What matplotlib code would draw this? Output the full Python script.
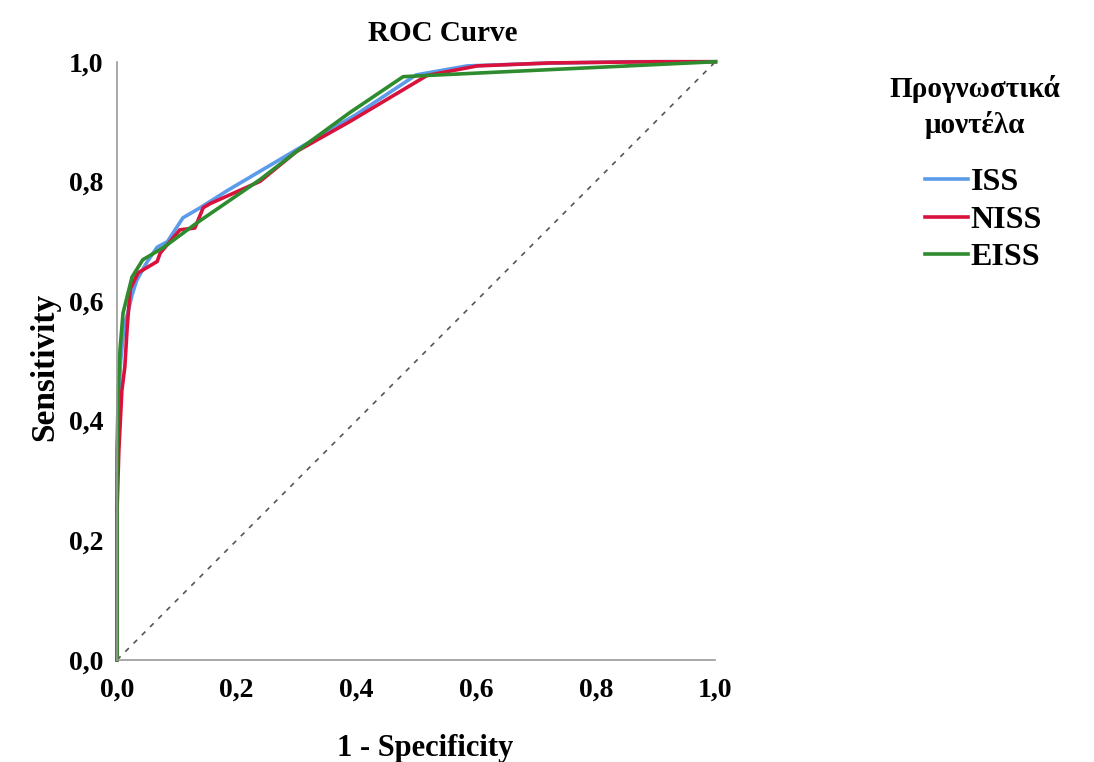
import matplotlib
matplotlib.use("Agg")
import matplotlib.pyplot as plt
from matplotlib.ticker import FuncFormatter

# ROC points (1 - specificity, sensitivity)
iss_fpr = [0.0, 0.0, 0.002, 0.006, 0.012, 0.018, 0.025, 0.033, 0.050, 0.067, 0.084,
           0.110, 0.139, 0.185, 0.30, 0.40, 0.50, 0.585, 0.70, 0.85, 1.0]
iss_tpr = [0.0, 0.30, 0.42, 0.50, 0.56, 0.58, 0.61, 0.635, 0.665, 0.69, 0.699,
           0.739, 0.756, 0.785, 0.853, 0.912, 0.978, 0.993, 0.997, 1.0, 1.0]

niss_fpr = [0.0, 0.0, 0.003, 0.008, 0.013, 0.017, 0.022, 0.035, 0.067, 0.072,
            0.105, 0.130, 0.144, 0.156, 0.239, 0.30, 0.389, 0.518, 0.602, 0.724, 0.90, 1.0]
niss_tpr = [0.0, 0.25, 0.35, 0.45, 0.49, 0.557, 0.62, 0.647, 0.666, 0.68,
            0.719, 0.722, 0.756, 0.763, 0.80, 0.850, 0.900, 0.977, 0.993, 0.998, 1.0, 1.0]

eiss_fpr = [0.0, 0.0, 0.002, 0.005, 0.010, 0.025, 0.043, 0.077, 0.134, 0.239,
            0.30, 0.389, 0.478, 0.518, 1.0]
eiss_tpr = [0.0, 0.35, 0.45, 0.52, 0.580, 0.640, 0.669, 0.689, 0.731, 0.803,
            0.850, 0.915, 0.975, 0.977, 1.0]

ticks = [0.0, 0.2, 0.4, 0.6, 0.8, 1.0]
legend_title = 'Προγνωστικά\nμοντέλα'

plt.rcParams['font.family'] = ['Liberation Serif', 'DejaVu Serif']
plt.rcParams['font.weight'] = 'bold'

fig = plt.figure(figsize=(10.94, 7.62), dpi=100)
ax = fig.add_axes([0.107, 0.134, 0.547, 0.785])

ax.plot([0, 1], [0, 1], color='#555555', linestyle=(0, (3, 4)), linewidth=1.2, clip_on=False)
ax.plot(iss_fpr, iss_tpr, color='#5b9bea', linewidth=2.6, label='ISS', clip_on=False)
ax.plot(niss_fpr, niss_tpr, color='#d8123c', linewidth=2.6, label='NISS', clip_on=False)
ax.plot(eiss_fpr, eiss_tpr, color='#2e8b2e', linewidth=2.6, label='EISS', clip_on=False)

ax.set_xlim(0, 1)
ax.set_ylim(0, 1)
ax.set_xticks(ticks)
ax.set_yticks(ticks)
fmt = FuncFormatter(lambda v, p: ("%.1f" % v).replace('.', ','))
ax.xaxis.set_major_formatter(fmt)
ax.yaxis.set_major_formatter(fmt)
ax.tick_params(length=0, labelsize=20)
ax.tick_params(axis='x', pad=13)
ax.tick_params(axis='y', pad=10)
for lab in ax.get_xticklabels() + ax.get_yticklabels():
    lab.set_fontweight('bold')

for s in ['top', 'right']:
    ax.spines[s].set_visible(False)
for s in ['left', 'bottom']:
    ax.spines[s].set_color('#999999')
    ax.spines[s].set_linewidth(1.2)

ax.set_title('ROC Curve', fontsize=21, fontweight='bold', pad=15, x=0.544)
ax.set_xlabel('1 - Specificity', fontsize=22, fontweight='bold', labelpad=22, x=0.515)
ax.set_ylabel('Sensitivity', fontsize=24, fontweight='bold', labelpad=6, y=0.49)

# legend title as a separate text so it can sit left of the entries' centre
fig.text(975 / 1094, 1 - 107 / 762, legend_title, ha='center', va='center',
         fontsize=21, fontweight='bold', linespacing=1.35, multialignment='center')
leg = ax.legend(loc='upper left', bbox_to_anchor=(925 / 1094, 1 - 168 / 762),
                bbox_transform=fig.transFigure, borderaxespad=0, borderpad=0,
                frameon=False, prop={'size': 23, 'weight': 'bold'}, handlelength=1.35,
                handletextpad=0.08, labelspacing=0.25)

fig.savefig('out.png', dpi=100)
